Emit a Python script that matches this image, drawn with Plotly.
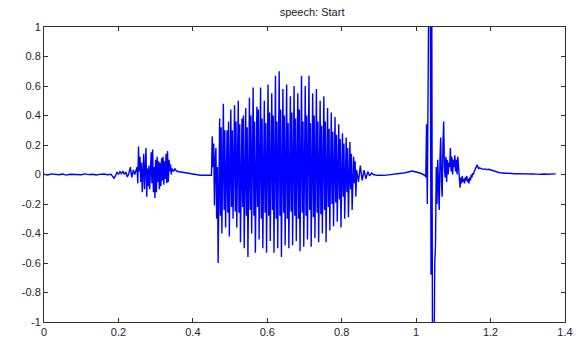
import numpy as np
import plotly.graph_objects as go

# ---- data (sample values of the waveform) ----
# each segment: start time (s), sample step (s), values
quiet_start = (0.0, 0.01, [0.002, -0.003, 0.004, 0.0, -0.002, 0.003, -0.004, 0.002, 0.0, 0.003,
                           -0.002, 0.004, -0.001, 0.002, -0.003, 0.001, 0.003, -0.002, 0.001])
pre_wiggle = (0.188, 0.004, [-0.025, -0.01, 0.017, 0.0, 0.02, 0.005, 0.024, 0.0, 0.017, -0.017,
                             0.005, 0.05, -0.02, 0.03, 0.0])
burst1 = (0.250, 0.002, [0.05, -0.06, 0.19, 0.02, 0.12, -0.05, 0.08, -0.12, 0.05, 0.14,
                         -0.10, 0.10, 0.18, -0.15, 0.04, -0.08, 0.06, -0.10, 0.03, 0.15,
                         -0.06, 0.17, -0.12, 0.05, -0.16, 0.10, -0.12, 0.12, -0.05, 0.09,
                         -0.10, 0.08, -0.08, 0.11, -0.04, 0.12, -0.07, 0.09, -0.03, 0.14,
                         -0.06, 0.16, -0.05, 0.10, 0.02, 0.07, 0.00, 0.04, 0.03, 0.02,
                         0.03, 0.04, 0.03, 0.02, 0.02])
gap1 = (0.36, 0.01, [0.02, 0.015, 0.01, 0.005, 0.0, -0.003, -0.005, -0.004, -0.006, -0.005])
burst2 = (0.452, 0.002, [
    0.26, 0.05, 0.21, -0.21, 0.10,
    0.18, -0.30, 0.05, -0.60, -0.10,
    0.38, -0.28, 0.32, -0.40, 0.22,
    0.48, -0.24, 0.30, -0.36, 0.26,
    0.30, -0.26, 0.36, -0.42, 0.20,
    0.44, -0.22, 0.30, -0.30, 0.28,
    0.47, -0.25, 0.36, -0.36, 0.30,
    0.50, -0.26, 0.34, -0.46, 0.24,
    0.38, -0.22, 0.40, -0.50, 0.30,
    0.45, -0.28, 0.32, -0.56, 0.28,
    0.52, -0.24, 0.40, -0.40, 0.34,
    0.59, -0.28, 0.36, -0.53, 0.26,
    0.46, -0.22, 0.44, -0.44, 0.32,
    0.59, -0.30, 0.38, -0.50, 0.28,
    0.50, -0.26, 0.35, -0.53, 0.36,
    0.61, -0.28, 0.42, -0.45, 0.30,
    0.55, -0.24, 0.40, -0.53, 0.25,
    0.67, -0.30, 0.36, -0.50, 0.34,
    0.70, -0.28, 0.44, -0.56, 0.28,
    0.58, -0.26, 0.40, -0.48, 0.36,
    0.61, -0.30, 0.35, -0.50, 0.29,
    0.53, -0.25, 0.42, -0.48, 0.34,
    0.60, -0.28, 0.38, -0.45, 0.26,
    0.55, -0.30, 0.44, -0.52, 0.31,
    0.67, -0.26, 0.36, -0.49, 0.28,
    0.60, -0.28, 0.40, -0.44, 0.33,
    0.67, -0.24, 0.35, -0.49, 0.27,
    0.55, -0.29, 0.40, -0.43, 0.30,
    0.58, -0.26, 0.36, -0.46, 0.30,
    0.50, -0.27, 0.33, -0.40, 0.24,
    0.53, -0.24, 0.36, -0.46, 0.27,
    0.45, -0.22, 0.31, -0.38, 0.24,
    0.42, -0.20, 0.29, -0.35, 0.21,
    0.39, -0.19, 0.27, -0.32, 0.18,
    0.34, -0.17, 0.24, -0.36, 0.16,
    0.28, -0.15, 0.21, -0.30, 0.13,
    0.25, -0.12, 0.18, -0.29, 0.11,
    0.22, -0.10, 0.14, -0.24, 0.07,
    0.12, -0.06, 0.09, -0.15, 0.03])
gap2 = (0.845, 0.005, [-0.05, 0.06, -0.04, 0.03, -0.03, 0.02, -0.01, 0.01, 0.0,
                       -0.004, -0.006, -0.005, -0.007, -0.005, -0.006, -0.004, -0.003, -0.002,
                       0.0, 0.002, 0.004, 0.006, 0.008, 0.009, 0.01, 0.012, 0.014, 0.016,
                       0.02, 0.024, 0.02, 0.018, 0.015, 0.01, 0.005])
click = (1.020, 0.002, [0.00, -0.01, 0.00, -0.02, 0.34, -0.20, 0.40, 1.30, 1.25, 1.30,
                        -0.68, 1.20, -1.30, -1.25, -1.30, -0.60, -0.48, 0.05, -0.20, 0.10,
                        -0.08, -0.24, 0.10, 0.25, -0.05, -0.15, 0.20, 0.36, 0.05, -0.02,
                        0.12, -0.05, 0.10, 0.00, 0.08, 0.05, 0.18, 0.02, 0.12, 0.00,
                        0.10, 0.05, 0.13, 0.02, 0.10, 0.00, 0.12, 0.04, -0.03, -0.09,
                        -0.02, -0.06, -0.01, -0.05, -0.03, -0.06, -0.02, -0.04, -0.01, -0.05,
                        -0.03, -0.06, -0.02, -0.04, 0.00, -0.02, 0.01, 0.00, 0.02, 0.03,
                        0.04, 0.05, 0.065, 0.05, 0.04, 0.045])
tail = (1.175, 0.005, [0.04, 0.035, 0.038, 0.033, 0.035, 0.03, 0.028, 0.022, 0.02, 0.015,
                       0.012, 0.01, 0.009, 0.008, 0.009, 0.007, 0.006, 0.007, 0.005, 0.006,
                       0.005, 0.004, 0.006, 0.005, 0.003, 0.004, 0.002, 0.003, 0.004, 0.002,
                       0.003, 0.001, 0.002, 0.004, 0.003, 0.002, 0.003, 0.004, 0.002, 0.003,
                       0.004])

segments = [quiet_start, pre_wiggle, burst1, gap1, burst2, gap2, click, tail]

x_ticks = [0, 0.2, 0.4, 0.6, 0.8, 1.0, 1.2, 1.4]
x_tick_labels = ["0", "0.2", "0.4", "0.6", "0.8", "1", "1.2", "1.4"]
y_ticks = [-1, -0.8, -0.6, -0.4, -0.2, 0, 0.2, 0.4, 0.6, 0.8, 1]
y_tick_labels = ["-1", "-0.8", "-0.6", "-0.4", "-0.2", "0", "0.2", "0.4", "0.6", "0.8", "1"]
title_text = "speech: Start"

# ---- build the series ----
t_all, v_all = [], []
for start, step, vals in segments:
    t_all.extend(start + step * np.arange(len(vals)))
    v_all.extend(vals)

fig = go.Figure()
fig.add_trace(go.Scatter(x=t_all, y=v_all, mode="lines",
                         line=dict(color="#0000FF", width=1.4), showlegend=False))

axis_common = dict(showline=True, linecolor="#303030", linewidth=1, mirror="ticks",
                   ticks="inside", ticklen=4, tickcolor="#303030", showgrid=False,
                   zeroline=False, automargin=False,
                   tickfont=dict(family="Liberation Sans, Arial", size=11, color="#2a2030"))

fig.update_layout(
    width=580, height=339,
    margin=dict(l=44, r=15, t=27, b=17, autoexpand=False),
    paper_bgcolor="white", plot_bgcolor="white",
    title=dict(text=title_text, x=0.538, xanchor="center", y=0.965, yanchor="middle",
               font=dict(family="Liberation Sans, Arial", size=11, color="#222222")),
    xaxis=dict(range=[0, 1.4], tickvals=x_ticks, ticktext=x_tick_labels, **axis_common),
    yaxis=dict(range=[-1, 1], tickvals=y_ticks, ticktext=y_tick_labels, **axis_common),
)

fig.write_html("out.html", config={"displayModeBar": False},
               post_script="document.body.style.margin='0px';document.body.style.overflow='hidden';")
